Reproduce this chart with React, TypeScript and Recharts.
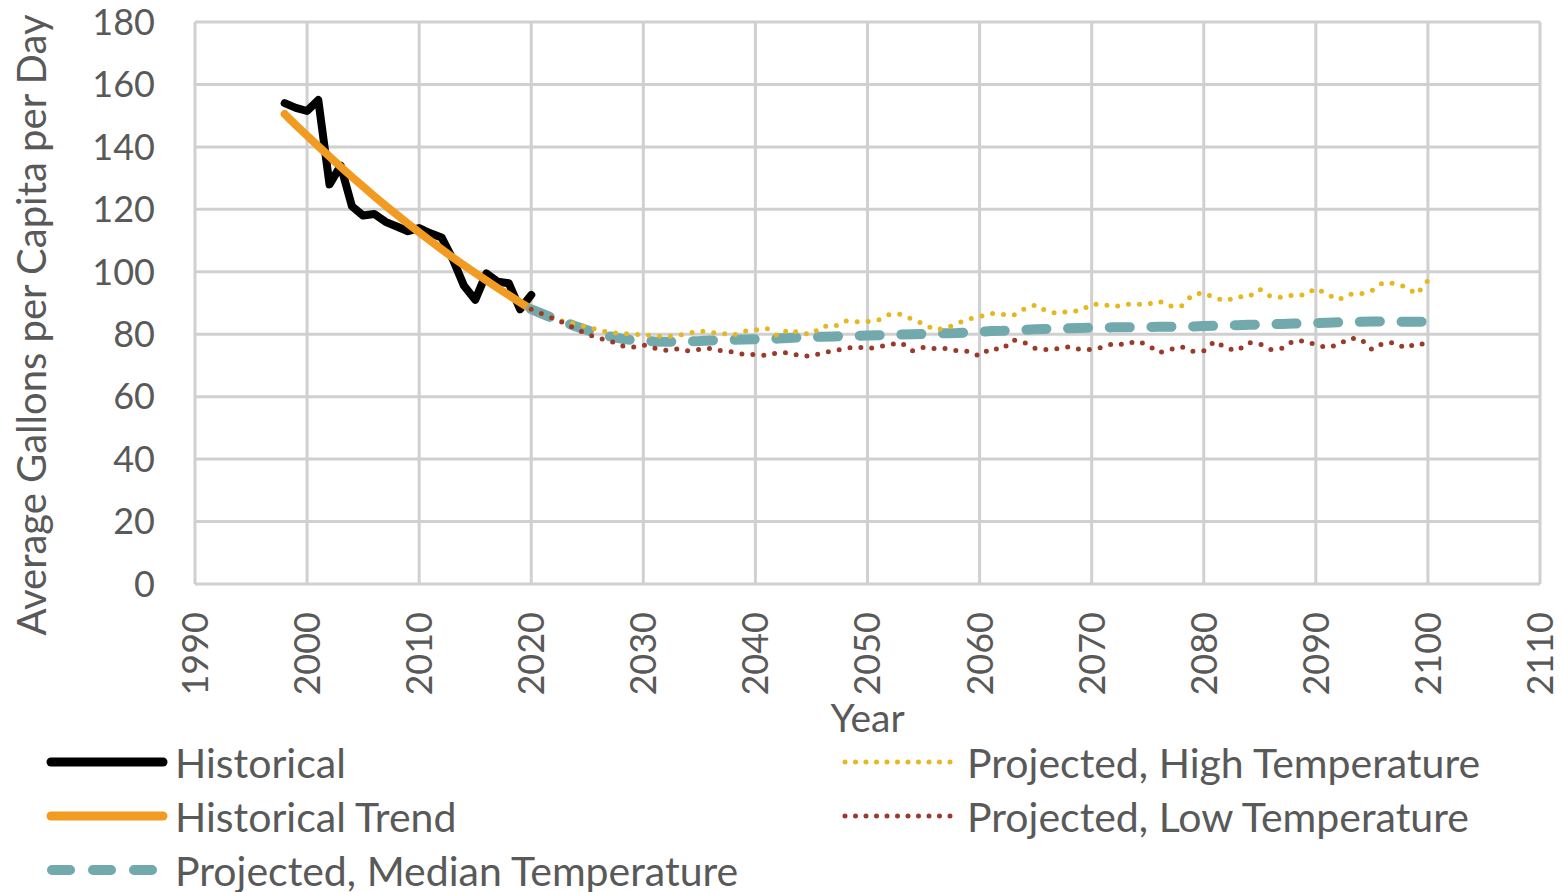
import { LineChart, Line, XAxis, YAxis, CartesianGrid } from "recharts"

const HIST_START = 1998
const PROJ_START = 2020

// gallons per capita per day, 1998..2020
const historical = [
  154, 152.5, 151.5, 155, 128, 134, 121, 118, 118.5, 116, 114.5, 113, 114, 112.3, 111, 104, 95.5, 91, 99.5, 96.8, 96.3, 88, 92.6,
]
const historicalTrend = [
  150.5, 147, 143.6, 140.2, 136.9, 133.6, 130.4, 127.3, 124.2, 121.2, 118.3, 115.4, 112.6, 109.9, 107.2, 104.6, 102.1, 99.6, 97.2,
  94.8, 92.5, 90.2, 88,
]

// projections, 2020..2100
const projMedian = [
  88, 86.5, 85, 83.8, 82.5, 81.3, 80.2, 79.3, 78.6, 78.1,
  77.9, 77.7, 77.6, 77.6, 77.7, 77.8, 78, 78.1, 78.2, 78.3,
  78.4, 78.5, 78.6, 78.8, 79, 79.1, 79.2, 79.3, 79.4, 79.5,
  79.6, 79.7, 79.8, 79.9, 80, 80.1, 80.2, 80.3, 80.4, 80.6,
  80.8, 81, 81.1, 81.3, 81.4, 81.6, 81.7, 81.8, 81.9, 82,
  82.1, 82.1, 82.2, 82.2, 82.3, 82.3, 82.4, 82.4, 82.5, 82.5,
  82.6, 82.7, 82.8, 82.9, 83, 83.1, 83.2, 83.3, 83.4, 83.5,
  83.6, 83.7, 83.8, 83.9, 84, 84.1, 84.1, 84, 84, 84,
  84,
]
const projHigh = [
  88, 86.5, 85, 84, 83.3, 82.3, 81.4, 80.5, 80.3, 80,
  79.8, 79.5, 79.2, 79.5, 80.3, 81.1, 80.5, 80.3, 79.6, 81,
  81.4, 81.9, 79.4, 81.6, 80.3, 80, 82.6, 82.4, 84.3, 84,
  84, 84.6, 86.4, 86.4, 84.8, 83.3, 81.4, 81.9, 83.5, 84.8,
  85.6, 86.7, 86.4, 86, 88.1, 89.4, 87.3, 86.7, 87.4, 87.5,
  89.6, 89.6, 88.8, 89.6, 89.6, 89.6, 90.6, 89, 89, 92.6,
  93.3, 91.5, 90.7, 92, 92, 94.4, 92, 91.8, 92.6, 92.6,
  94.7, 92.8, 91, 92.8, 92.9, 94, 96.5, 96.3, 95.2, 92.8,
  97.2,
]
const projLow = [
  88, 86.5, 85, 83.5, 81.6, 80, 78.8, 77.9, 76.3, 75.8,
  76.6, 75.5, 74.9, 75.3, 74.7, 75.1, 75.5, 74.7, 74.3, 73.5,
  73.5, 73.2, 74.1, 74.1, 73, 73, 74.1, 74.7, 75.4, 76,
  75.4, 76, 76.7, 77.3, 74.7, 75.8, 75.4, 75.4, 74.7, 74.5,
  73, 75.5, 75.1, 78.2, 77.3, 75.4, 75.1, 75.4, 76, 75.1,
  75.1, 75.8, 77.1, 76.6, 77.8, 76.6, 74.1, 75.1, 76, 74.5,
  74.7, 77.8, 75.5, 74.7, 77.3, 76.9, 75.1, 75.5, 77.9, 77.8,
  76.6, 75.7, 76.6, 78.7, 78.5, 75.1, 77.1, 77.3, 75.5, 77.1,
  76.6,
]

const xTicks = [1990, 2000, 2010, 2020, 2030, 2040, 2050, 2060, 2070, 2080, 2090, 2100, 2110]
const yTicks = [0, 20, 40, 60, 80, 100, 120, 140, 160, 180]

const data: any[] = []
for (let year = HIST_START; year < PROJ_START + projMedian.length; year++) {
  const h = year - HIST_START
  const p = year - PROJ_START
  data.push({
    year,
    historical: historical[h],
    trend: historicalTrend[h],
    median: p >= 0 ? projMedian[p] : undefined,
    high: p >= 0 ? projHigh[p] : undefined,
    low: p >= 0 ? projLow[p] : undefined,
  })
}

const FONT = "Lato, 'Open Sans', sans-serif"
const TEXT = "#595959"
const GRID = "#d0d0d0"

const XTick = (props: any) => {
  const { x, y, payload } = props
  return (
    <text x={x} y={y} transform={`rotate(-90 ${x} ${y})`} textAnchor="end" dy="0.36em" fill={TEXT} fontSize={36} fontFamily={FONT}>
      {payload.value}
    </text>
  )
}

const legendLeft = [
  { name: "Historical", kind: "solid", color: "#000000" },
  { name: "Historical Trend", kind: "solid", color: "#f29b22" },
  { name: "Projected, Median Temperature", kind: "dash", color: "#71a9ac" },
]
const legendRight = [
  { name: "Projected, High Temperature", kind: "dot", color: "#e6b820" },
  { name: "Projected, Low Temperature", kind: "dot", color: "#9b3a2a" },
]

function LegendIcon({ kind, color, width }: any) {
  let line
  if (kind === "solid") line = <line x1={5} y1={10} x2={width - 5} y2={10} stroke={color} strokeWidth={9} strokeLinecap="round" />
  else if (kind === "dash") line = <line x1={6} y1={10} x2={width - 6} y2={10} stroke={color} strokeWidth={10} strokeLinecap="round" strokeDasharray="18 23" />
  else line = <line x1={3} y1={10} x2={width - 3} y2={10} stroke={color} strokeWidth={5} strokeLinecap="round" strokeDasharray="0 10.5" />
  return (
    <svg width={width} height={20} style={{ display: "block" }}>
      {line}
    </svg>
  )
}

function LegendItem({ item, x, y, iconW }: any) {
  return (
    <div style={{ position: "absolute", left: x, top: y - 27, height: 54, display: "flex", alignItems: "center" }}>
      <LegendIcon kind={item.kind} color={item.color} width={iconW} />
      <span style={{ marginLeft: 7, fontSize: 41, color: TEXT, fontFamily: FONT, whiteSpace: "nowrap" }}>{item.name}</span>
    </div>
  )
}

export default function App() {
  return (
    <div style={{ position: "absolute", left: 0, top: 0, width: 1562, height: 892, background: "#fff" }}>
      <LineChart width={1562} height={892} data={data} margin={{ top: 22, right: 22, bottom: 158, left: 0 }}>
        <CartesianGrid stroke={GRID} strokeWidth={3} />
        <XAxis
          dataKey="year"
          type="number"
          domain={[1990, 2110]}
          ticks={xTicks}
          interval={0}
          height={150}
          tickSize={0}
          tickMargin={28}
          axisLine={false}
          tick={<XTick />}
          label={{ value: "Year", position: "insideBottom", offset: 0, dy: -2, fill: TEXT, fontSize: 39, fontFamily: FONT } as any}
        />
        <YAxis
          type="number"
          domain={[0, 180]}
          ticks={yTicks}
          interval={0}
          width={195}
          tickSize={0}
          tickMargin={40}
          axisLine={false}
          tick={{ fill: TEXT, fontSize: 36, fontFamily: FONT }}
          label={{
            value: "Average Gallons per Capita per Day",
            angle: -90,
            position: "insideLeft",
            offset: 0,
            dx: 32,
            dy: 22,
            fill: TEXT,
            fontSize: 40,
            fontFamily: FONT,
            style: { textAnchor: "middle" },
          } as any}
        />
        <Line dataKey="historical" stroke="#000" strokeWidth={8} dot={false} strokeLinejoin="round" strokeLinecap="round" isAnimationActive={false} />
        <Line dataKey="trend" stroke="#f29b22" strokeWidth={8} dot={false} strokeLinecap="round" isAnimationActive={false} />
        <Line dataKey="median" stroke="#71a9ac" strokeWidth={10} dot={false} strokeLinecap="round" strokeDasharray="20 21.7" isAnimationActive={false} />
        <Line dataKey="high" stroke="#e6b820" strokeWidth={5} dot={false} strokeLinecap="round" strokeDasharray="0 11" isAnimationActive={false} />
        <Line dataKey="low" stroke="#9b3a2a" strokeWidth={5} dot={false} strokeLinecap="round" strokeDasharray="0 11" isAnimationActive={false} />
      </LineChart>
      {legendLeft.map((item, i) => (
        <LegendItem key={item.name} item={item} x={46} y={762 + i * 54} iconW={122} />
      ))}
      {legendRight.map((item, i) => (
        <LegendItem key={item.name} item={item} x={842} y={762 + i * 54} iconW={118} />
      ))}
    </div>
  )
}
